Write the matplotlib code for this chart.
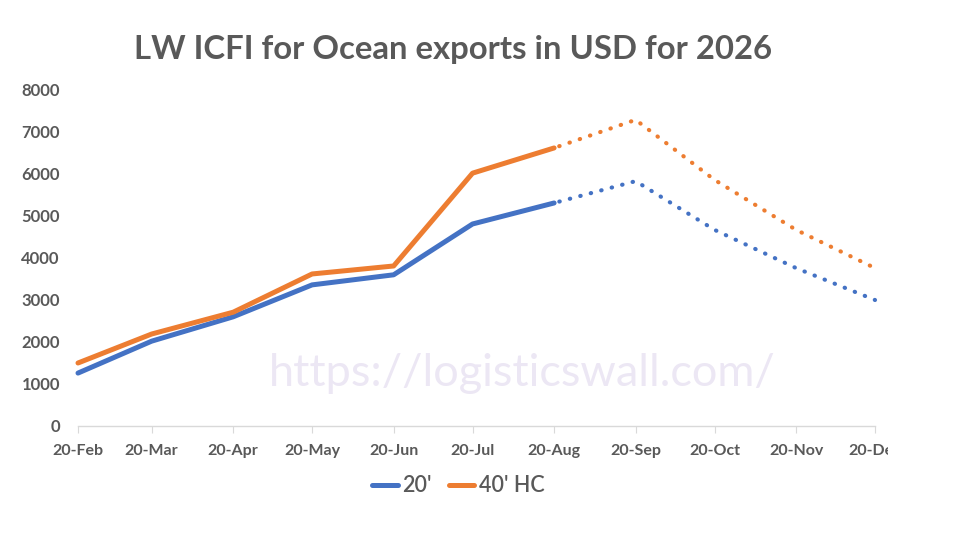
import matplotlib
matplotlib.use("Agg")
import matplotlib.pyplot as plt
from matplotlib.transforms import Bbox
import pandas as pd

months = ["Feb", "Mar", "Apr", "May", "Jun", "Jul", "Aug", "Sep", "Oct", "Nov", "Dec"]
dates = pd.to_datetime([f"2026-{m}-20" for m in months], format="%Y-%b-%d")
tick_labels = [f"20-{m}" for m in months]
teu20 = [1260, 2020, 2600, 3360, 3600, 4810, 5310, 5830, 4670, 3760, 3000]
feu40hc = [1500, 2190, 2710, 3620, 3810, 6020, 6620, 7290, 5860, 4670, 3760]
split = 6  # last actual point (20-Aug); forecast after that

BLUE = "#4472C4"
ORANGE = "#ED7D31"
GREY = "#595959"

plt.rcParams["font.family"] = ["Lato", "DejaVu Sans"]

fig = plt.figure(figsize=(9.72, 5.43), dpi=100)
ax = fig.add_axes([78 / 972, 1 - 426 / 543, (875 - 78) / 972, (426 - 90) / 543])

for values, color, name in [(teu20, BLUE, "20'"), (feu40hc, ORANGE, "40' HC")]:
    ax.plot(dates[: split + 1], values[: split + 1], color=color, lw=3.6,
            solid_capstyle="round", solid_joinstyle="round", label=name, clip_on=False)
    ax.plot(dates[split:], values[split:], color=color, lw=3.0,
            linestyle=(1.3, (0.1, 2.5)), dash_capstyle="round", clip_on=False)

ax.set_xlim(dates[0], dates[-1])
ax.set_ylim(0, 8000)
ax.set_yticks(range(0, 8001, 1000))
ax.set_xticks(dates)
ax.set_xticklabels(tick_labels)

for side in ["top", "right", "left"]:
    ax.spines[side].set_visible(False)
ax.spines["bottom"].set_color("#D9D9D9")
ax.spines["bottom"].set_linewidth(1.0)
ax.tick_params(axis="y", length=0, pad=13, labelsize=12, labelcolor=GREY)
ax.tick_params(axis="x", length=5, color="#D9D9D9", pad=8, labelsize=11.5, labelcolor=GREY)
for lab in ax.get_yticklabels() + ax.get_xticklabels():
    lab.set_fontweight("bold")

# the last date label is cut by the chart area edge
clip = Bbox.from_extents(0, 0, 888, 543)
ax.get_xticklabels()[-1].set_clip_box(clip)
ax.get_xticklabels()[-1].set_clip_on(True)

fig.text(453 / 972, 1 - 50 / 543, "LW ICFI for Ocean exports in USD for 2026",
         ha="center", va="center", fontsize=23.7, fontweight="bold", color=GREY)

fig.text(522 / 972, 1 - 373 / 543, "https://logisticswall.com/", ha="center", va="center",
         fontsize=32.5, fontweight="normal", color="#ECE7F4", zorder=0)

leg = fig.legend(loc="center", bbox_to_anchor=(458 / 972, 1 - 486 / 543), ncol=2,
                 frameon=False, fontsize=15.5, handlelength=1.2, handletextpad=0.2,
                 columnspacing=0.8)
for t in leg.get_texts():
    t.set_color(GREY)
    t.set_fontweight("semibold")

fig.savefig("out.png", dpi=100)
